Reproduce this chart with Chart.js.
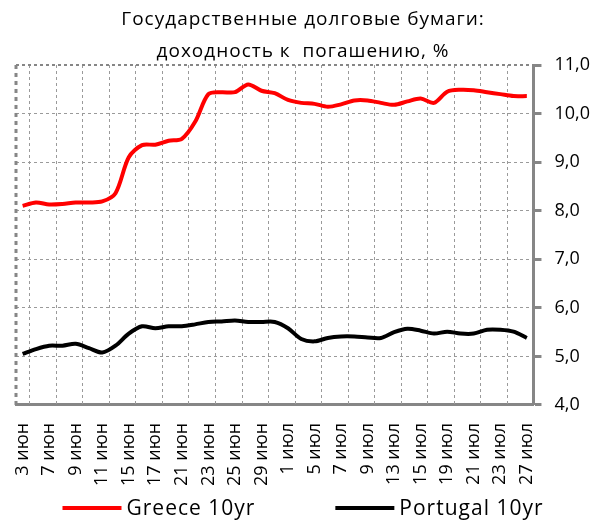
<!DOCTYPE html>
<html>
<head>
<meta charset="utf-8">
<script src="https://cdn.jsdelivr.net/npm/chart.js@4.4.1/dist/chart.umd.min.js"></script>
<style>
  body { margin: 0; background: #fff; }
</style>
</head>
<body>
<canvas id="chart" width="606" height="527"></canvas>
<script>
// trading days, 3 Jun - 27 Jul
const dates = [
  '3 июн', '4 июн', '7 июн', '8 июн', '9 июн', '10 июн', '11 июн', '14 июн', '15 июн', '16 июн',
  '17 июн', '18 июн', '21 июн', '22 июн', '23 июн', '24 июн', '25 июн', '28 июн', '29 июн', '30 июн',
  '1 июл', '2 июл', '5 июл', '6 июл', '7 июл', '8 июл', '9 июл', '12 июл', '13 июл', '14 июл',
  '15 июл', '16 июл', '19 июл', '20 июл', '21 июл', '22 июл', '23 июл', '26 июл', '27 июл'
];
const greece = [
  8.10, 8.17, 8.13, 8.14, 8.17, 8.17, 8.19, 8.36, 9.10, 9.35,
  9.36, 9.44, 9.48, 9.83, 10.40, 10.44, 10.44, 10.60, 10.47, 10.42,
  10.28, 10.22, 10.20, 10.14, 10.19, 10.27, 10.27, 10.22, 10.18, 10.25,
  10.31, 10.22, 10.45, 10.49, 10.48, 10.44, 10.40, 10.36, 10.36
];
const portugal = [
  5.05, 5.15, 5.22, 5.22, 5.26, 5.17, 5.08, 5.22, 5.47, 5.62,
  5.58, 5.62, 5.62, 5.66, 5.71, 5.72, 5.74, 5.71, 5.71, 5.71,
  5.58, 5.36, 5.31, 5.38, 5.41, 5.41, 5.39, 5.38, 5.50, 5.57,
  5.53, 5.47, 5.51, 5.47, 5.47, 5.55, 5.55, 5.51, 5.38
];
const yMin = 4;
const yMax = 11;
const titleLines = ['Государственные долговые бумаги:', 'доходность к  погашению, %'];

const FONT = 'Open Sans';
const axisGray = '#868686';
const gridGray = '#9a9a9a';

// dashed frame (left + top) and the dashed vertical grid every 2nd day
const frame = {
  id: 'frame',
  beforeDatasetsDraw(chart) {
    const { ctx, chartArea: a } = chart;
    const xs = chart.scales.x;
    ctx.save();
    ctx.strokeStyle = gridGray;
    ctx.lineWidth = 1;
    ctx.setLineDash([3, 3]);
    for (let i = 1; i < dates.length; i += 2) {
      const px = Math.round((xs.getPixelForTick(i - 1) + xs.getPixelForTick(i)) / 2) + 0.5;
      ctx.beginPath();
      ctx.moveTo(px, a.top);
      ctx.lineTo(px, a.bottom);
      ctx.stroke();
    }
    ctx.strokeStyle = axisGray;
    ctx.lineWidth = 3;
    ctx.setLineDash([4, 4]);
    ctx.beginPath();
    ctx.moveTo(a.left, a.bottom);
    ctx.lineTo(a.left, a.top);
    ctx.stroke();
    ctx.lineWidth = 2;
    ctx.setLineDash([3, 3]);
    ctx.beginPath();
    ctx.moveTo(a.left, a.top);
    ctx.lineTo(a.right, a.top);
    ctx.stroke();
    ctx.restore();
  }
};

// title (two centred lines) and legend drawn as text on the canvas
const texts = {
  id: 'texts',
  afterDraw(chart) {
    const { ctx, chartArea: a } = chart;
    ctx.save();
    ctx.fillStyle = '#000';
    ctx.textBaseline = 'middle';
    ctx.textAlign = 'center';
    ctx.font = '19px "' + FONT + '"';
    ctx.letterSpacing = '1px';
    ctx.fillText(titleLines[0], chart.width / 2, a.top - 45);
    ctx.fillText(titleLines[1], chart.width / 2, a.top - 13);

    ctx.font = '21px "' + FONT + '"';
    ctx.textAlign = 'left';
    const lineLen = 59, gapText = 5, gapItem = 80;
    const items = chart.data.datasets.map((d) => ({ d, w: ctx.measureText(d.label).width }));
    const total = items.reduce((s, it) => s + lineLen + gapText + it.w, 0) + gapItem * (items.length - 1);
    let x = (chart.width - total) / 2;
    const y = 508;
    items.forEach((it) => {
      ctx.fillStyle = it.d.borderColor;
      ctx.fillRect(x, y - 2, lineLen, 4);
      ctx.fillStyle = '#000';
      ctx.fillText(it.d.label, x + lineLen + gapText, y + 1);
      x += lineLen + gapText + it.w + gapItem;
    });
    ctx.restore();
  }
};

new Chart(document.getElementById('chart'), {
  type: 'line',
  data: {
    labels: dates,
    datasets: [
      {
        label: 'Greece 10yr',
        data: greece,
        borderColor: '#ff0000',
        borderWidth: 4,
        pointRadius: 0,
        tension: 0.3
      },
      {
        label: 'Portugal 10yr',
        data: portugal,
        borderColor: '#000000',
        borderWidth: 4,
        pointRadius: 0,
        tension: 0.3
      }
    ]
  },
  options: {
    responsive: false,
    animation: false,
    layout: { padding: { left: 16, right: 3, top: 65, bottom: 31 } },
    plugins: {
      title: { display: false },
      legend: { display: false },
      tooltip: { enabled: false }
    },
    scales: {
      x: {
        offset: true,
        grid: { display: false },
        border: { color: axisGray, width: 3 },
        ticks: {
          autoSkip: false,
          minRotation: 90,
          maxRotation: 90,
          padding: 10,
          color: '#000',
          font: { family: FONT, size: 18 },
          callback: (v, i) => (i % 2 === 0 ? dates[i] : '')
        }
      },
      y: {
        position: 'right',
        min: yMin,
        max: yMax,
        grid: {
          color: (c) => (c.tick && c.tick.value === yMax) ? 'rgba(0,0,0,0)' : gridGray,
          tickColor: axisGray,
          tickLength: 8,
          tickWidth: 3
        },
        border: { color: axisGray, width: 3, dash: [3, 3] },
        ticks: {
          stepSize: 1,
          padding: 13,
          color: '#000',
          font: { family: FONT, size: 18 },
          callback: (v) => v.toFixed(1).replace('.', ',')
        }
      }
    }
  },
  plugins: [frame, texts]
});
</script>
</body>
</html>
